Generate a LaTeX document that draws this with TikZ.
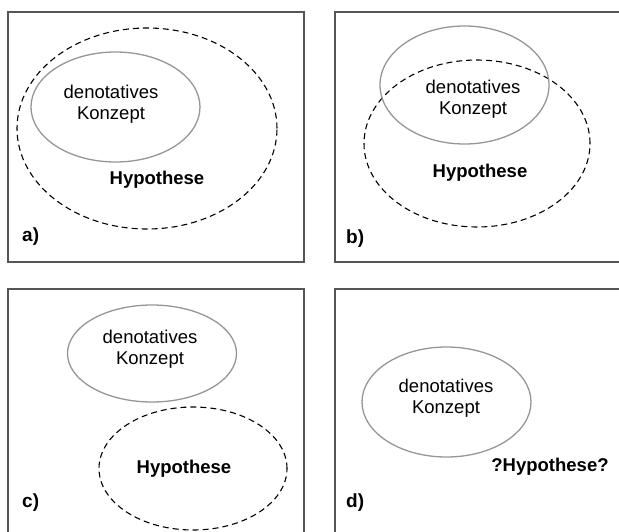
\documentclass[tikz,border=0pt]{standalone}
\usepackage{fontspec}
\setmainfont{Liberation Sans}
\usetikzlibrary{shapes.geometric}
\definecolor{framegray}{RGB}{85,85,85}
\definecolor{conceptgray}{RGB}{150,150,150}
\begin{document}
\begin{tikzpicture}[x=1pt,y=-1pt,
  panel/.style={draw=framegray,line width=1.4pt},
  concept/.style={ellipse,draw=conceptgray,line width=1.3pt,inner sep=0pt},
  hypo/.style={ellipse,draw=black,line width=1.1pt,dash pattern=on 6pt off 4pt,inner sep=0pt},
  txt/.style={align=center,inner sep=0pt,font=\fontsize{18.5}{21}\selectfont},
  btxt/.style={txt,font=\fontsize{18.5}{21}\selectfont\bfseries},
  tag/.style={anchor=west,inner sep=0pt,font=\fontsize{19}{21}\selectfont\bfseries}]
\useasboundingbox (0,0) rectangle (619,531);
\clip (0,0) rectangle (619,531);

% frames of the four panels
\draw[panel] (8,12) rectangle (304,262);
\draw[panel] (335,12) rectangle (640,262);
\draw[panel] (8,289) rectangle (304,560);
\draw[panel] (335,289) rectangle (640,560);

% a) concept inside the hypothesis
\node[hypo,minimum width=260pt,minimum height=201pt] (hA) at (147,128.5) {};
\node[concept,minimum width=169pt,minimum height=110pt] (cA) at (115.5,107) {};
\node[txt] (tA) at (111,104) {denotatives\\Konzept};
\node[btxt] (hyA) at (157,180) {Hypothese};
\node[tag] (la) at (22,237) {a)};

% b) overlapping
\node[hypo,minimum width=226pt,minimum height=167pt] (hB) at (477,143.5) {};
\node[concept,minimum width=169pt,minimum height=118pt] (cB) at (464.5,85) {};
\node[txt] (tB) at (473,99) {denotatives\\Konzept};
\node[btxt] (hyB) at (480,173) {Hypothese};
\node[tag] (lb) at (346,239) {b)};

% c) disjoint
\node[concept,minimum width=169pt,minimum height=97pt] (cC) at (152,353.5) {};
\node[hypo,minimum width=188pt,minimum height=123pt] (hC) at (193,468.5) {};
\node[txt] (tC) at (150,349) {denotatives\\Konzept};
\node[btxt] (hyC) at (184,469) {Hypothese};
\node[tag] (lc) at (22,503) {c)};

% d) hypothesis unknown
\node[concept,minimum width=169pt,minimum height=110pt] (cD) at (446.5,402) {};
\node[txt] (tD) at (446,398.5) {denotatives\\Konzept};
\node[btxt] (hyD) at (550,467) {?Hypothese?};
\node[tag] (ld) at (346,503) {d)};
\end{tikzpicture}
\end{document}
